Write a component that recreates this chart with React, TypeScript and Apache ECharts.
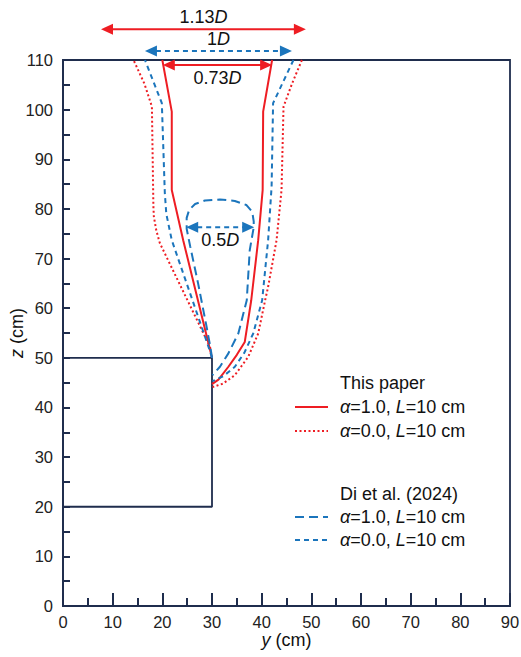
import React, { useEffect, useRef } from 'react';
import * as echarts from 'echarts';

const RED = '#ee1d23';
const BLUE = '#1b75bc';
const NAVY = '#1f2d4d';
const FONT = 'Liberation Sans, Arial, sans-serif';

// [y (cm), z (cm)]
const redSolidLeft = [[30, 50], [24.2, 73.7], [21.9, 83.8], [21.9, 99.6], [20.0, 110]];
const redSolidRight = [[42.1, 110], [40.3, 99.6], [40.2, 83.8], [39.3, 73.7], [37.9, 61.6], [36.6, 53.2], [35.0, 50.6], [33.3, 48.2], [31.3, 45.6], [30.0, 44.7]];
const redDotLeft = [[30, 50], [29.6, 52.2], [19.5, 73.1], [18.8, 75.6], [18.3, 78.4], [18.2, 80.4], [17.9, 100.6], [16.4, 105.2], [14.2, 110]];
const redDotRight = [[48.1, 110], [46.1, 105.2], [44.4, 100.6], [44.0, 83.8], [43.0, 73.7], [41.3, 64.3], [40.7, 61.6], [39.3, 54.9], [37.3, 50.2], [34.6, 46.5], [32.2, 44.8], [30.1, 44.1]];
const blueShortLeft = [[30, 50], [29.3, 52.2], [21.9, 73.7], [20.8, 79.0], [20.5, 83.2], [19.9, 101.3], [16.5, 110]];
const blueShortRight = [[46.4, 110], [42.3, 101.3], [42.0, 84.5], [41.3, 73.7], [40.1, 61.6], [38.3, 54.9], [36.5, 51.0], [34.6, 48.2], [32.3, 46.3], [30.1, 45.3]];
const blueLong = [[30, 50], [29.7, 52.0], [28.9, 56.3], [27.2, 65.0], [25.6, 72.5], [24.9, 76.0], [24.9, 78.2], [25.4, 79.8], [26.6, 81.0], [28.6, 81.7], [31.6, 81.9], [34.6, 81.6], [36.9, 80.8], [38.1, 79.4], [38.4, 77.5], [38.4, 76.3], [37.6, 71.7], [37.0, 61.6], [35.3, 54.9], [33.3, 50.9], [31.6, 48.2], [30.1, 46.5]];
const block = [[0, 50], [30, 50], [30, 20], [0, 20]];

// width annotations: [y start, y end, z, label, color, dashed, label above]
const annotations: [number, number, number, string, string, boolean, boolean][] = [
  [7.65, 48.9, 116.2, '1.13{i|D}', RED, false, true],
  [16.5, 46.1, 111.8, '1{i|D}', BLUE, true, true],
  [20.1, 42.1, 109.0, '0.73{i|D}', RED, false, false],
  [24.8, 38.5, 76.3, '0.5{i|D}', BLUE, true, false],
];

const richText = (size: number) => ({
  i: { fontStyle: 'italic', fontSize: size, fontFamily: FONT, fill: '#111', color: '#111' },
});

export default function App() {
  const ref = useRef<HTMLDivElement>(null);
  useEffect(() => {
    if (!ref.current) return;
    const chart = echarts.init(ref.current, undefined, { renderer: 'svg' });
    const line = (name: string, data: number[][], color: string, type: any, width = 2) => ({
      name,
      type: 'line',
      data,
      symbol: 'none',
      smooth: false,
      lineStyle: { color, width, type },
      z: 3,
    });
    const axisCommon = {
      axisLine: { show: true, lineStyle: { color: NAVY, width: 1.8 } },
      splitLine: { show: false },
      minorSplitLine: { show: false },
      axisLabel: { color: '#222', fontSize: 16.5, fontFamily: FONT },
    };
    chart.setOption({
      animation: false,
      grid: { left: 63, right: 11, top: 60, bottom: 51, containLabel: false, outerBoundsMode: 'none', show: true, borderColor: NAVY, borderWidth: 1.8 },
      xAxis: {
        type: 'value', min: 0, max: 90, interval: 10,
        ...axisCommon,
        axisLabel: { ...axisCommon.axisLabel, margin: 7 },
        axisTick: { inside: true, length: 13, lineStyle: { color: NAVY, width: 2 } },
        minorTick: { show: true, splitNumber: 2, length: 8, lineStyle: { color: NAVY, width: 2 } },
        name: '{i|y} (cm)',
        nameLocation: 'middle',
        nameGap: 25,
        nameMoveOverlap: false,
        nameTextStyle: { fontSize: 18, fontFamily: FONT, color: '#111', rich: { i: { fontStyle: 'italic', fontSize: 18, fontFamily: FONT, color: '#111' } } },
      },
      yAxis: {
        type: 'value', min: 0, max: 110, interval: 10,
        ...axisCommon,
        axisLabel: { ...axisCommon.axisLabel, margin: 10 },
        axisTick: { inside: true, length: 7, lineStyle: { color: NAVY, width: 2 } },
        minorTick: { show: true, splitNumber: 2, length: 7, lineStyle: { color: NAVY, width: 2 } },
        name: '{i|z} (cm)',
        nameLocation: 'middle',
        nameGap: 37,
        nameMoveOverlap: false,
        nameTextStyle: { fontSize: 18, fontFamily: FONT, color: '#111', rich: { i: { fontStyle: 'italic', fontSize: 18, fontFamily: FONT, color: '#111' } } },
      },
      series: [
        line('block', block, NAVY, 'solid', 1.8),
        line('redSolidL', redSolidLeft, RED, 'solid'),
        line('redSolidR', redSolidRight, RED, 'solid'),
        line('redDotL', redDotLeft, RED, [2, 2.5]),
        line('redDotR', redDotRight, RED, [2, 2.5]),
        line('blueLong', blueLong, BLUE, [9, 5]),
        line('blueShortL', blueShortLeft, BLUE, [5, 4]),
        line('blueShortR', blueShortRight, BLUE, [5, 4]),
      ],
    });

    const graphics: any[] = [];
    annotations.forEach(([x1, x2, z, label, color, dashed, above]) => {
      const p1 = chart.convertToPixel({ gridIndex: 0 }, [x1, z]) as number[];
      const p2 = chart.convertToPixel({ gridIndex: 0 }, [x2, z]) as number[];
      const y = p1[1];
      const hl = 12, hw = 5.5;
      graphics.push({
        type: 'line', silent: true, z: 10,
        shape: { x1: p1[0] + hl - 1, y1: y, x2: p2[0] - hl + 1, y2: y },
        style: { stroke: color, lineWidth: 2, lineDash: dashed ? [5, 4] : null },
      });
      graphics.push({ type: 'polygon', silent: true, z: 10, shape: { points: [[p1[0], y], [p1[0] + hl, y - hw], [p1[0] + hl, y + hw]] }, style: { fill: color } });
      graphics.push({ type: 'polygon', silent: true, z: 10, shape: { points: [[p2[0], y], [p2[0] - hl, y - hw], [p2[0] - hl, y + hw]] }, style: { fill: color } });
      graphics.push({
        type: 'text', silent: true, z: 10,
        x: (p1[0] + p2[0]) / 2,
        y: above ? y - 3 : y + 4,
        style: {
          text: label, fill: '#111', fontSize: 18, fontFamily: FONT,
          textAlign: 'center', textVerticalAlign: above ? 'bottom' : 'top',
          rich: richText(18),
        },
      });
    });

    // legend
    const lx1 = 295, lx2 = 328, tx = 340;
    const legendRows: [number, string, string | null, any][] = [
      [383, 'This paper', null, null],
      [407, '{i|α}=1.0, {i|L}=10 cm', RED, null],
      [431, '{i|α}=0.0, {i|L}=10 cm', RED, [2, 2.5]],
      [494, 'Di et al. (2024)', null, null],
      [517, '{i|α}=1.0, {i|L}=10 cm', BLUE, [9, 5]],
      [540, '{i|α}=0.0, {i|L}=10 cm', BLUE, [5, 4]],
    ];
    legendRows.forEach(([y, text, color, dash]) => {
      if (color) {
        graphics.push({
          type: 'line', silent: true, z: 10,
          shape: { x1: lx1, y1: y, x2: lx2, y2: y },
          style: { stroke: color, lineWidth: 2, lineDash: dash },
        });
      }
      graphics.push({
        type: 'text', silent: true, z: 10, x: tx, y,
        style: {
          text, fill: '#111', fontSize: 18, fontFamily: FONT,
          textAlign: 'left', textVerticalAlign: 'middle', rich: richText(18),
        },
      });
    });
    chart.setOption({ graphic: graphics });

    return () => chart.dispose();
  }, []);
  return <div ref={ref} style={{ width: 521, height: 657, position: 'absolute', left: 0, top: 0 }} />;
}
